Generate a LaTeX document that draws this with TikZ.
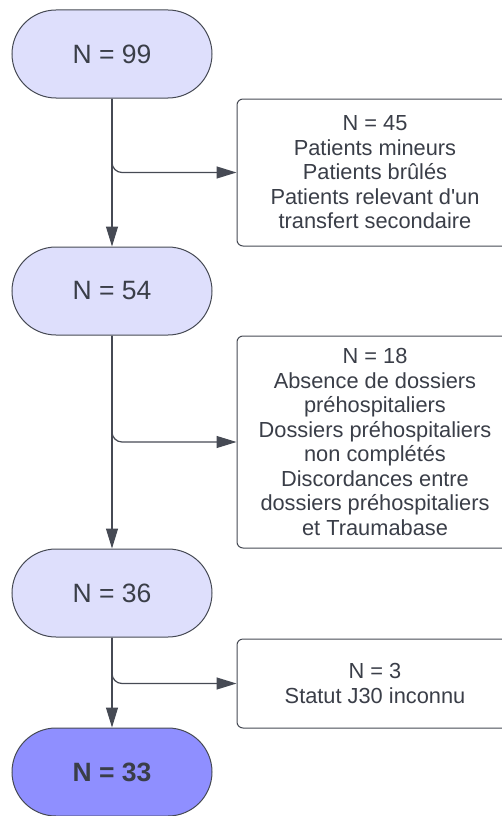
\documentclass[tikz,border=0pt]{standalone}
\usepackage{fontspec}
\setmainfont{Liberation Sans}
\usetikzlibrary{arrows.meta}
\definecolor{lav}{RGB}{222,223,252}
\definecolor{lavdark}{RGB}{143,143,255}
\definecolor{strk}{RGB}{70,74,84}
\definecolor{txt}{RGB}{58,62,72}
\tikzset{
  stad/.style={rectangle, rounded corners=44pt, draw=strk, line width=1pt, fill=lav,
    minimum width=200pt, minimum height=88pt, text=txt,
    font=\fontsize{26.5}{30}\selectfont},
  excl/.style={rectangle, rounded corners=6pt, draw=strk, line width=1pt, fill=white,
    minimum width=276pt, text=txt, align=center, inner sep=0pt,
    font=\fontsize{21.8}{24.5}\selectfont},
  conn/.style={draw=strk, line width=1.2pt, -{Triangle[length=20pt,width=12pt]}},
  branch/.style={conn, rounded corners=10pt}
}
\begin{document}
\begin{tikzpicture}[x=1pt,y=-1pt]
\useasboundingbox (0,0) rectangle (502,816);
\node[stad] (n1) at (112,54) {N = 99};
\node[stad] (n2) at (112,291) {N = 54};
\node[stad] (n3) at (112,593) {N = 36};
\node[stad, fill=lavdark, font=\fontsize{26.5}{30}\selectfont\bfseries] (n4) at (112,772) {N = 33};
\node[excl, minimum height=147pt] (b1) at (375,172.5) {N = 45\\Patients mineurs\\Patients brûlés\\Patients relevant d\textquotesingle un\\transfert secondaire};
\node[excl, minimum height=212pt] (b2) at (375,442) {N = 18\\Absence de dossiers\\préhospitaliers\\Dossiers préhospitaliers\\non complétés\\Discordances entre\\dossiers préhospitaliers\\et Traumabase};
\node[excl, minimum height=89pt] (b3) at (375,683.5) {N = 3\\Statut J30 inconnu};
\draw[conn] (n1) -- (n2);
\draw[conn] (n2) -- (n3);
\draw[conn] (n3) -- (n4);
\draw[branch] (n1.south) |- (b1.west);
\draw[branch] (n2.south) |- (b2.west);
\draw[branch] (n3.south) |- (b3.west);
\end{tikzpicture}
\end{document}
